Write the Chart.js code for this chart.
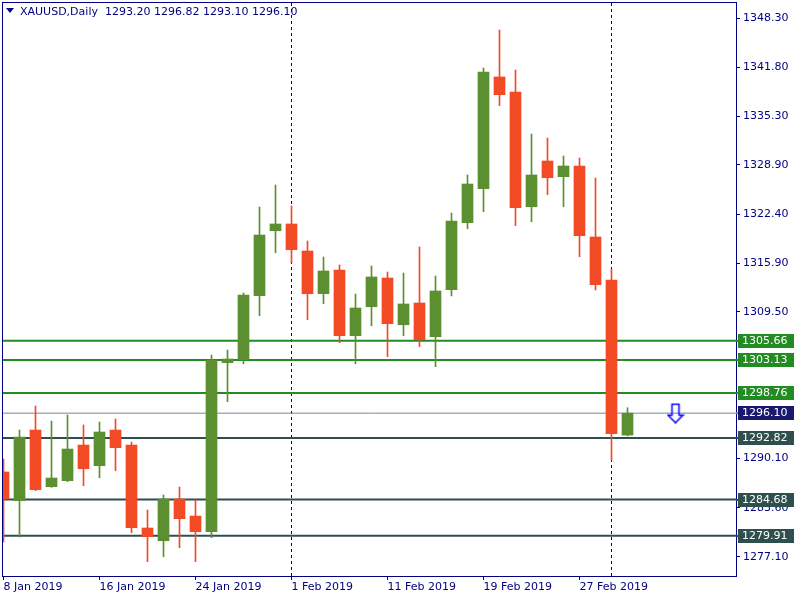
<!DOCTYPE html>
<html>
<head>
<meta charset="utf-8">
<script src="https://cdn.jsdelivr.net/npm/chart.js@4.4.1/dist/chart.umd.min.js"></script>
<style>
  html, body { margin: 0; padding: 0; background: #ffffff; }
  #wrap { width: 800px; height: 600px; }
</style>
</head>
<body>
<div id="wrap"><canvas id="c" width="800" height="600"></canvas></div>
<script>
// ---- data ----
const symbolTitle = "XAUUSD,Daily";
const dates = ["8 Jan 2019","9 Jan 2019","10 Jan 2019","11 Jan 2019","14 Jan 2019","15 Jan 2019","16 Jan 2019",
  "17 Jan 2019","18 Jan 2019","21 Jan 2019","22 Jan 2019","23 Jan 2019","24 Jan 2019","25 Jan 2019",
  "28 Jan 2019","29 Jan 2019","30 Jan 2019","31 Jan 2019","1 Feb 2019","4 Feb 2019","5 Feb 2019",
  "6 Feb 2019","7 Feb 2019","8 Feb 2019","11 Feb 2019","12 Feb 2019","13 Feb 2019","14 Feb 2019",
  "15 Feb 2019","18 Feb 2019","19 Feb 2019","20 Feb 2019","21 Feb 2019","22 Feb 2019","25 Feb 2019",
  "26 Feb 2019","27 Feb 2019","28 Feb 2019","1 Mar 2019","4 Mar 2019"];
const openP  = [1288.33,1284.54,1293.87,1286.39,1287.18,1291.89,1289.16,1293.87,1291.89,1280.93,
  1279.25,1284.76,1282.51,1280.44,1302.77,1303.16,1311.62,1320.20,1321.09,1317.52,
  1311.88,1315.01,1306.33,1310.16,1313.95,1307.78,1310.65,1306.20,1312.41,1321.26,
  1325.75,1340.51,1338.52,1323.37,1329.41,1327.34,1328.75,1319.37,1313.69,1293.20];
const highP  = [1290.04,1293.87,1297.05,1295.06,1295.86,1294.54,1294.93,1295.33,1292.29,1283.31,
  1285.29,1286.34,1284.63,1303.78,1304.44,1311.97,1323.33,1326.24,1323.47,1318.84,
  1316.73,1315.67,1311.84,1315.54,1314.75,1314.61,1318.05,1314.22,1322.54,1327.56,
  1341.70,1346.71,1341.43,1332.98,1332.45,1330.07,1329.81,1327.16,1315.14,1296.82];
const lowP   = [1279.08,1279.74,1285.86,1286.30,1287.05,1286.52,1287.57,1288.50,1280.31,1276.48,
  1277.14,1278.33,1276.48,1279.65,1297.61,1302.63,1308.97,1317.30,1315.98,1308.45,
  1310.56,1305.41,1302.63,1307.65,1303.56,1306.33,1304.88,1302.24,1311.58,1320.47,
  1322.71,1336.71,1320.86,1321.39,1324.96,1323.37,1316.77,1312.37,1289.91,1293.10];
const closeP = [1284.76,1292.95,1285.99,1287.53,1291.36,1288.76,1293.61,1291.54,1280.97,1279.78,
  1284.76,1282.16,1280.44,1303.12,1303.25,1311.71,1319.63,1321.09,1317.69,1311.88,
  1314.88,1306.33,1309.99,1314.09,1307.92,1310.52,1305.80,1312.24,1321.48,1326.37,
  1341.17,1338.17,1323.24,1327.56,1327.20,1328.75,1319.54,1313.07,1293.39,1296.10];
const xTickIndex = [0, 6, 12, 18, 24, 30, 36];
const yTickValues = [1348.30, 1341.80, 1335.30, 1328.90, 1322.40, 1315.90, 1309.50, 1290.10, 1283.60, 1277.10];
const monthStartIndex = [18, 38];
const resistanceLevels = [1305.66, 1303.13, 1298.76];
const supportLevels = [1292.82, 1284.68, 1279.91];
const bidPrice = closeP[closeP.length - 1];
const arrowPoint = [{ x: 42, y: 1296.10 }];

// ---- style ----
const NAVY = '#000080';
const BULL = '#5b8f30';
const BEAR = '#f24a25';
const GREEN_LVL = '#228b22';
const SLATE_LVL = '#2f4f4f';
const BID_LINE = '#778899';
const BID_BOX = '#191970';
const FONT = '"DejaVu Sans", Verdana, sans-serif';

const idx = closeP.map((_, i) => i);
const bodies = idx.map(i => ({ x: i, y: [openP[i], closeP[i]] }));
const wicks = idx.map(i => ({ x: i, y: [lowP[i], highP[i]] }));
const candleColor = ctx => {
  const i = ctx.dataIndex;
  return closeP[i] >= openP[i] ? BULL : BEAR;
};

const XMIN = -0.5 / 16, XMAX = (736 - 3.5) / 16;
const YMIN = 1274.590, YMAX = 1350.2815;

function levelDataset(v, color, width, order) {
  return {
    type: 'line', data: [{ x: XMIN - 1, y: v }, { x: XMAX + 1, y: v }],
    borderColor: color, borderWidth: width, pointRadius: 0, order: order, clip: true
  };
}

// arrow image
const arrowImg = document.createElement('canvas');
arrowImg.width = 18; arrowImg.height = 21;
(function () {
  const g = arrowImg.getContext('2d');
  g.strokeStyle = '#0000ff'; g.lineWidth = 1.5;
  g.lineJoin = 'miter';
  g.beginPath();
  g.moveTo(5.5, 1.5); g.lineTo(12.5, 1.5); g.lineTo(12.5, 12.5); g.lineTo(16.5, 12.5);
  g.lineTo(9, 20); g.lineTo(1.5, 12.5); g.lineTo(5.5, 12.5); g.closePath();
  g.stroke();
})();

const decorPlugin = {
  id: 'decor',
  beforeDatasetsDraw(chart) {
    const { ctx, chartArea: a, scales: { x } } = chart;
    ctx.save();
    ctx.strokeStyle = NAVY; ctx.lineWidth = 1; ctx.setLineDash([3, 3]);
    monthStartIndex.forEach(i => {
      const px = Math.round(x.getPixelForValue(i)) - 0.5;
      ctx.beginPath(); ctx.moveTo(px, a.top); ctx.lineTo(px, a.bottom); ctx.stroke();
    });
    ctx.restore();
  },
  afterDraw(chart) {
    const { ctx, chartArea: a, scales: { y } } = chart;
    ctx.save();
    // frame
    ctx.strokeStyle = NAVY; ctx.lineWidth = 1;
    ctx.strokeRect(a.left - 0.5, a.top - 0.5, a.right - a.left + 1, a.bottom - a.top + 1);
    // level labels
    const labels = [];
    resistanceLevels.forEach(v => labels.push([v, GREEN_LVL, GREEN_LVL]));
    supportLevels.forEach(v => labels.push([v, SLATE_LVL, SLATE_LVL]));
    labels.push([bidPrice, BID_BOX, BID_LINE]);
    ctx.font = '11px ' + FONT;
    ctx.textBaseline = 'middle'; ctx.textAlign = 'left';
    labels.forEach(([v, box, line]) => {
      const py = Math.round(y.getPixelForValue(v));
      ctx.fillStyle = line;
      ctx.fillRect(a.right, py - 1, 3, 2);
      ctx.fillStyle = box;
      ctx.fillRect(a.right + 2, py - 7, 56, 14);
      ctx.fillStyle = '#ffffff';
      ctx.fillText(v.toFixed(2), a.right + 6, py + 0.5);
    });
    // title
    ctx.fillStyle = NAVY;
    ctx.beginPath(); ctx.moveTo(6, 8); ctx.lineTo(14, 8); ctx.lineTo(10, 13); ctx.closePath(); ctx.fill();
    const last = closeP.length - 1;
    const t = symbolTitle + '  ' + [openP[last], highP[last], lowP[last], closeP[last]].map(v => v.toFixed(2)).join(' ');
    ctx.fillStyle = NAVY;
    ctx.fillText(t, 20, 12);
    ctx.restore();
  }
};

const datasets = [];
resistanceLevels.forEach(v => datasets.push(levelDataset(v, GREEN_LVL, 2, 5)));
supportLevels.forEach(v => datasets.push(levelDataset(v, SLATE_LVL, 2, 5)));
datasets.push(levelDataset(bidPrice, BID_LINE, 1, 6));
datasets.push({ type: 'bar', data: wicks, backgroundColor: candleColor, barThickness: 1, grouped: false, borderWidth: 0, order: 2 });
datasets.push({ type: 'bar', data: bodies, backgroundColor: candleColor, barThickness: 11, grouped: false, borderWidth: 0, borderSkipped: false, order: 1 });
datasets.push({ type: 'scatter', data: arrowPoint, pointStyle: arrowImg, pointRadius: 10, order: 0, clip: false });

function noPad(s) { s.paddingLeft = 0; s.paddingRight = 0; s.paddingTop = 0; s.paddingBottom = 0; }

new Chart(document.getElementById('c'), {
  type: 'bar',
  data: { datasets },
  plugins: [decorPlugin],
  options: {
    responsive: false,
    animation: false,
    devicePixelRatio: 1,
    layout: { autoPadding: false, padding: { left: 3, top: 3, right: 0, bottom: 0 } },
    plugins: { legend: { display: false }, tooltip: { enabled: false } },
    scales: {
      x: {
        type: 'linear', min: XMIN, max: XMAX, offset: false,
        grid: { display: true, offset: false, drawOnChartArea: false, drawTicks: true, tickLength: 4, color: NAVY },
        border: { display: false },
        afterBuildTicks: s => { s.ticks = xTickIndex.map(v => ({ value: v })); },
        afterFit: s => { s.height = 24; noPad(s); },
        ticks: {
          align: 'start', maxRotation: 0, minRotation: 0, autoSkip: false, padding: 1,
          color: NAVY, font: { family: FONT, size: 11 },
          callback: v => dates[v]
        }
      },
      y: {
        type: 'linear', position: 'right', min: YMIN, max: YMAX,
        grid: { display: true, drawOnChartArea: false, drawTicks: true, tickLength: 4, color: NAVY },
        border: { display: false },
        afterBuildTicks: s => { s.ticks = yTickValues.map(v => ({ value: v })); },
        afterFit: s => { s.width = 64; noPad(s); },
        ticks: {
          padding: 3, color: NAVY, font: { family: FONT, size: 11 },
          callback: v => Number(v).toFixed(2)
        }
      }
    }
  }
});
</script>
</body>
</html>
